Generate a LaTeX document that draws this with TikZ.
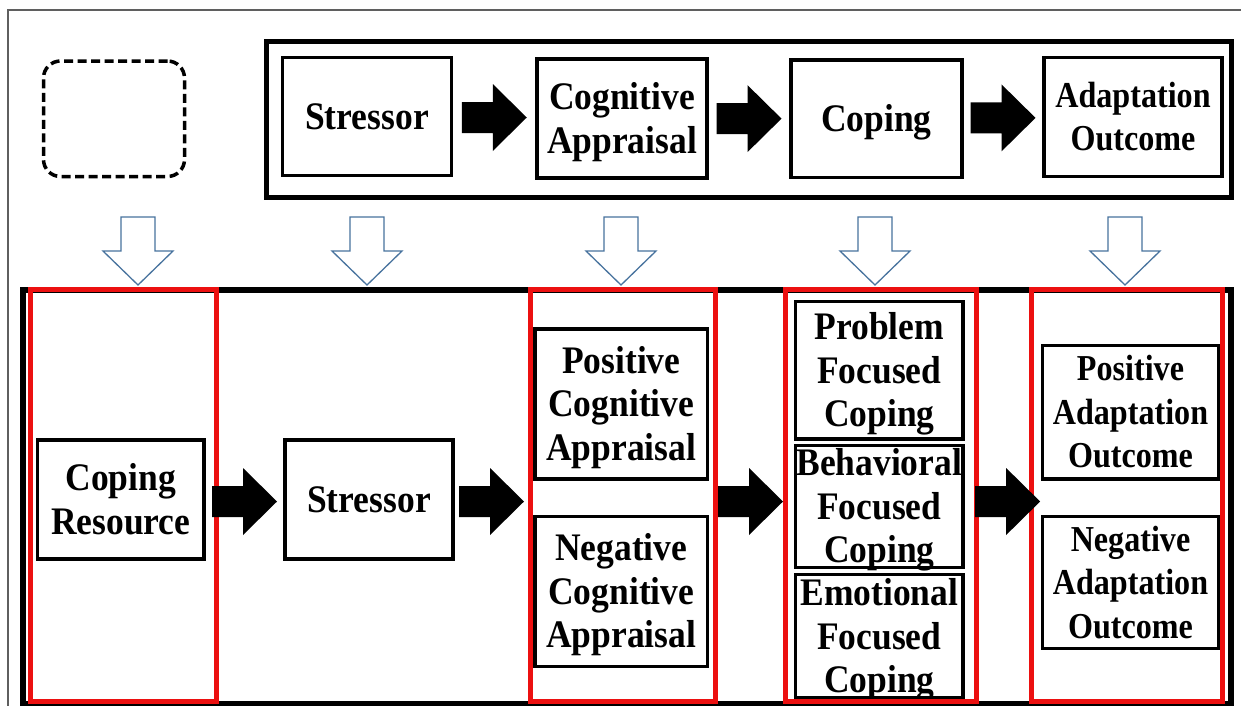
\documentclass[tikz,border=0pt]{standalone}
\usepackage{fontspec}
\setmainfont{Liberation Serif}[FakeStretch=0.91]
\newfontfamily\adfont{Liberation Serif}[FakeStretch=0.88]
\usetikzlibrary{calc}

% strut that centres the capitals of a label on the node centre
\newcommand\capstrut{\rule[-0.22em]{0pt}{1.102em}}

\definecolor{framered}{RGB}{236,16,16}
\definecolor{hollowblue}{RGB}{72,115,158}
\definecolor{framegray}{RGB}{95,95,95}

\tikzset{
  box/.style={draw=black, line width=3.8pt, rectangle, inner sep=0pt, outer sep=0pt},
  txt/.style={align=center, inner sep=0pt, font=\bfseries\fontsize{39}{43.5}\selectfont},
  adtxt/.style={align=center, inner sep=0pt, font=\adfont\bfseries\fontsize{36.5}{43.5}\selectfont},
  column/.style={draw=framered, line width=5pt, rectangle, inner sep=0pt, outer sep=0pt},
  frame/.style={draw=black, line width=5pt, rectangle, inner sep=0pt, outer sep=0pt},
  blockright/.pic={\fill[black] (-32.5,-15.5) -- (-1.5,-15.5) -- (-1.5,-33.5) -- (32.5,0)
      -- (-1.5,33.5) -- (-1.5,15.5) -- (-32.5,15.5) -- cycle;},
  hollowdown/.pic={\filldraw[fill=white, draw=hollowblue, line width=1.3pt, line join=miter]
      (-17,-34) -- (17,-34) -- (17,0) -- (35,0) -- (0,34) -- (-35,0) -- (-17,0) -- cycle;},
}

\begin{document}
\begin{tikzpicture}[x=1pt, y=-1pt]
  \useasboundingbox (0,0) rectangle (1241,705);
  \clip (0,0) rectangle (1241,705);
  \fill[white] (0,0) rectangle (1241,705);

  % outer sheet border
  \node[draw=framegray, line width=1.5pt, rectangle, inner sep=0pt,
        minimum width=1240pt, minimum height=720pt] (sheet) at (628,370) {};

  % empty dashed placeholder
  \node[draw=black, line width=3.5pt, dash pattern=on 9pt off 4.5pt, rounded corners=17pt,
        rectangle, inner sep=0pt, minimum width=141pt, minimum height=115.5pt]
        (blank) at (114,118.75) {};

  % ---------- general model (upper row) ----------
  \node[frame, minimum width=965pt, minimum height=156pt] (upper) at (748.5,119) {};

  \node[box, minimum width=169pt, minimum height=118pt] (tS) at (367,116.5) {};
  \node[box, minimum width=170pt, minimum height=119pt] (tC) at (622,118.5) {};
  \node[box, minimum width=171pt, minimum height=117.5pt] (tP) at (876.5,118.75) {};
  \node[box, minimum width=178pt, minimum height=119pt] (tA) at (1133,117) {};

  \node[txt] (tSt) at (tS) {\capstrut Stressor};
  \node[txt] (tCt) at (tC) {\capstrut Cognitive\\Appraisal\capstrut};
  \node[txt] (tPt) at (tP) {\capstrut Coping};
  \node[adtxt] (tAt) at (tA) {\capstrut Adaptation\\Outcome\capstrut};

  \pic at ($(tS.east)!0.5!(tC.west)$) {blockright};
  \pic at ($(tC.east)!0.5!(tP.west)$) {blockright};
  \pic at ($(tP.east)!0.5!(tA.west)$) {blockright};

  % ---------- links from the model to the detailed stages ----------
  \coordinate (d1) at (138,251);
  \coordinate (d2) at (367,251);
  \coordinate (d3) at (621,251);
  \coordinate (d4) at (875,251);
  \coordinate (d5) at (1125,251);
  \foreach \d in {d1,d2,d3,d4,d5} \pic at (\d) {hollowdown};

  % ---------- detailed stages (lower row) ----------
  \node[frame, line width=5.5pt, minimum width=1208pt, minimum height=414pt] (lower) at (627,497) {};

  \node[box, minimum width=166.5pt, minimum height=119pt] (bCR) at (120.75,499.5) {};
  \node[box, minimum width=168pt, minimum height=119pt] (bS) at (369,499.5) {};
  \node[box, minimum width=172.5pt, minimum height=150pt] (pCA) at (621.25,404) {};
  \node[box, minimum width=172.5pt, minimum height=150pt] (nCA) at (621.25,591.5) {};
  \node[box, minimum width=167.5pt, minimum height=137.5pt] (pFC) at (879.25,370.25) {};
  \node[box, minimum width=167.5pt, minimum height=122pt] (bFC) at (879.25,506.5) {};
  \node[box, minimum width=167.5pt, minimum height=123.5pt] (eFC) at (879.25,636.25) {};
  \node[box, minimum width=176pt, minimum height=133.5pt] (pAO) at (1130.5,412.25) {};
  \node[box, minimum width=176pt, minimum height=132pt] (nAO) at (1130.5,582.5) {};

  \node[txt] (bCRt) at (bCR) {\capstrut Coping\\Resource\capstrut};
  \node[txt] (bSt) at (bS) {\capstrut Stressor};
  \node[txt] (pCAt) at (pCA) {\capstrut Positive\\Cognitive\\Appraisal\capstrut};
  \node[txt] (nCAt) at (nCA) {\capstrut Negative\\Cognitive\\Appraisal\capstrut};
  \node[txt] (pFCt) at (pFC) {\capstrut Problem\\Focused\\Coping\capstrut};
  \node[txt] (bFCt) at (bFC) {\capstrut Behavioral\\Focused\\Coping\capstrut};
  \node[txt] (eFCt) at (eFC) {\capstrut Emotional\\Focused\\Coping\capstrut};
  \node[adtxt] (pAOt) at (pAO) {\capstrut Positive\\Adaptation\\Outcome\capstrut};
  \node[adtxt] (nAOt) at (nAO) {\capstrut Negative\\Adaptation\\Outcome\capstrut};

  % red stage columns
  \node[column, minimum width=186pt, minimum height=411.5pt] (r1) at (123,495.25) {};
  \node[column, minimum width=185.5pt, minimum height=411.5pt] (r2) at (622.75,495.25) {};
  \node[column, minimum width=190.5pt, minimum height=411.5pt] (r3) at (880.75,495.25) {};
  \node[column, minimum width=191pt, minimum height=411.5pt] (r4) at (1127,495.25) {};

  % flow between the stages
  \coordinate (flow) at (0,501.5);
  \pic at ($(bCR.east |- flow)!0.5!(bS.west |- flow)$) {blockright};
  \pic at ($(bS.east |- flow)!0.5!(r2.west |- flow)$) {blockright};
  \pic at ($(r2.east |- flow)!0.5!(r3.west |- flow)$) {blockright};
  \pic at ($(r3.east |- flow)!0.57!(r4.west |- flow)$) {blockright};
\end{tikzpicture}
\end{document}
